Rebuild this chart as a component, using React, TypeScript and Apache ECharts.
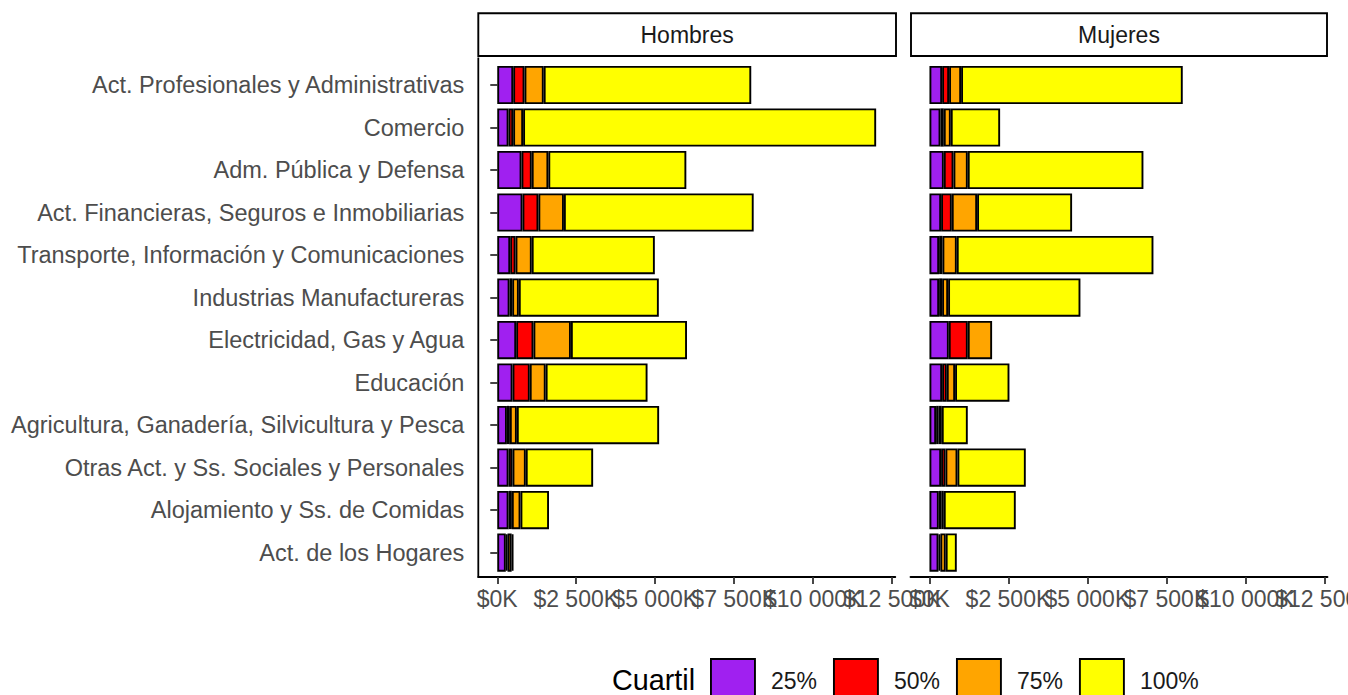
import React, { useEffect, useRef } from "react";
import * as echarts from "echarts";

const categories = [
  "Act. Profesionales y Administrativas",
  "Comercio",
  "Adm. Pública y Defensa",
  "Act. Financieras, Seguros e Inmobiliarias",
  "Transporte, Información y Comunicaciones",
  "Industrias Manufactureras",
  "Electricidad, Gas y Agua",
  "Educación",
  "Agricultura, Ganadería, Silvicultura y Pesca",
  "Otras Act. y Ss. Sociales y Personales",
  "Alojamiento y Ss. de Comidas",
  "Act. de los Hogares",
];

const quartiles = ["25%", "50%", "75%", "100%"];
const quartileColors = ["#A020F0", "#FF0000", "#FFA500", "#FFFF00"];

// Hombres (miles de $)
const hombres25 = [505, 357, 767, 798, 410, 389, 599, 483, 305, 357, 357, 270];
const hombres50 = [357, 147, 325, 504, 168, 84, 546, 546, 94, 126, 105, 55];
const hombres75 = [609, 315, 525, 808, 514, 210, 1186, 504, 221, 420, 273, 130];
const hombres100 = [6569, 11175, 4368, 6007, 3896, 4431, 3675, 3224, 4504, 2132, 903, 60];

// Mujeres (miles de $)
const mujeres25 = [401, 348, 454, 369, 306, 306, 612, 401, 211, 369, 295, 285];
const mujeres50 = [221, 106, 306, 338, 105, 95, 601, 148, 70, 137, 80, 60];
const mujeres75 = [380, 221, 453, 802, 454, 190, 770, 263, 110, 380, 79, 170];
const mujeres100 = [7016, 1562, 5560, 3006, 6225, 4188, 0, 1720, 822, 2163, 2278, 350];

const panels = ["Hombres", "Mujeres"];
// tick labels split over two overlaid axes so ECharts does not drop overlapping end labels
const xTicksMain = [0, 2500, 5000, 7500, 12500];
const xTicksExtra = [10000];

const FONT = "'Liberation Sans', Arial, sans-serif";

const fmt = (v: number) =>
  "$" + String(v).replace(/\B(?=(\d{3})+(?!\d))/g, " ") + "K";

export default function App() {
  const ref = useRef<HTMLDivElement>(null);

  useEffect(() => {
    if (!ref.current) return;
    const chart = echarts.init(ref.current, undefined, { renderer: "svg" });

    const gridTop = 63.75;
    const gridH = 510;
    const grids = [
      { left: 478.3, top: gridTop, width: 417, height: gridH, outerBoundsMode: "none", containLabel: false },
      { left: 910.5, top: gridTop, width: 417, height: gridH, outerBoundsMode: "none", containLabel: false },
    ];

    const xAxisBase = (grid: number, ticks: number[], showLine: boolean) => ({
      type: "value",
      gridIndex: grid,
      position: "bottom",
      min: -600,
      max: 12600,
      offset: 3.25,
      splitLine: { show: false },
      axisLine: { show: showLine, lineStyle: { color: "#000", width: 1.8 } },
      axisTick: {
        show: true,
        customValues: ticks,
        length: 7,
        lineStyle: { color: "#333", width: 1.8 },
      },
      axisLabel: {
        show: true,
        customValues: ticks,
        formatter: (v: number) => fmt(v),
        fontSize: 23,
        fontFamily: FONT,
        color: "#4D4D4D",
        margin: 10,
        hideOverlap: false,
      },
    });

    const yAxes = [
      {
        type: "category",
        gridIndex: 0,
        data: categories,
        inverse: true,
        axisLine: { show: false },
        axisTick: {
          show: true,
          alignWithLabel: true,
          length: 7,
          lineStyle: { color: "#333", width: 1.8 },
        },
        axisLabel: {
          fontSize: 23.5,
          fontFamily: FONT,
          color: "#4D4D4D",
          margin: 14,
          interval: 0,
        },
      },
      {
        type: "category",
        gridIndex: 1,
        data: categories,
        inverse: true,
        show: false,
      },
    ];

    const panelData = [
      [hombres25, hombres50, hombres75, hombres100],
      [mujeres25, mujeres50, mujeres75, mujeres100],
    ];

    const series: any[] = [];
    panelData.forEach((arrs, p) => {
      arrs.forEach((arr, q) => {
        series.push({
          type: "bar",
          name: quartiles[q],
          xAxisIndex: p,
          yAxisIndex: p,
          stack: panels[p],
          barCategoryGap: "10%",
          data: arr.map((v) => (v === 0 ? null : v)),
          itemStyle: {
            color: quartileColors[q],
            borderColor: "#000",
            borderWidth: 1.9,
          },
          emphasis: { disabled: true },
        });
      });
    });

    const strips = [
      { x: 478.3, w: 417.7 },
      { x: 911, w: 416 },
    ];
    const graphic: any[] = [];
    strips.forEach((s, i) => {
      graphic.push({
        type: "rect",
        shape: { x: s.x, y: 13.3, width: s.w, height: 42.7 },
        style: { fill: "#fff", stroke: "#000", lineWidth: 1.9 },
      });
      graphic.push({
        type: "text",
        x: s.x + s.w / 2,
        y: 35,
        style: {
          text: panels[i],
          fontSize: 23,
          fontFamily: FONT,
          fill: "#1A1A1A",
          align: "center",
          verticalAlign: "middle",
        },
      });
    });
    graphic.push({
      type: "line",
      shape: { x1: 478.3, y1: 57.5, x2: 478.3, y2: 577.8 },
      style: { stroke: "#000", lineWidth: 1.8 },
    });
    graphic.push({
      type: "text",
      x: 612,
      y: 680,
      style: {
        text: "Cuartil",
        fontSize: 28.75,
        fontFamily: FONT,
        fill: "#000",
        align: "left",
        verticalAlign: "middle",
      },
    });

    chart.setOption({
      animation: false,
      backgroundColor: "#fff",
      grid: grids,
      xAxis: [
        xAxisBase(0, xTicksMain, true),
        xAxisBase(1, xTicksMain, true),
        xAxisBase(0, xTicksExtra, false),
        xAxisBase(1, xTicksExtra, false),
      ],
      yAxis: yAxes,
      series,
      legend: {
        data: quartiles,
        left: 710,
        top: 658,
        orient: "horizontal",
        padding: 0,
        itemWidth: 44,
        itemHeight: 44,
        itemGap: 16,
        icon: "rect",
        selectedMode: false,
        itemStyle: { borderColor: "#000", borderWidth: 1.9 },
        textStyle: {
          fontSize: 23,
          fontFamily: FONT,
          color: "#1A1A1A",
          padding: [0, 0, 0, 11],
        },
      },
      graphic,
    });

    return () => chart.dispose();
  }, []);

  return (
    <div
      ref={ref}
      style={{ position: "absolute", left: 0, top: 0, width: 1348, height: 695 }}
    />
  );
}
